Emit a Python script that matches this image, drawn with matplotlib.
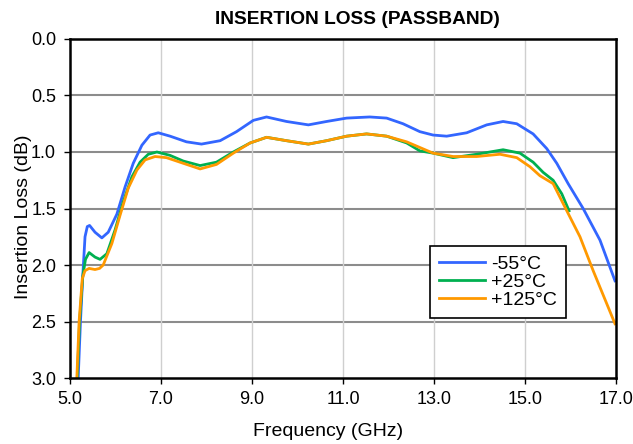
import matplotlib.pyplot as plt

plt.rcParams['font.family'] = ['Liberation Sans', 'DejaVu Sans']

# values (frequency in GHz, insertion loss in dB)
freq_m55 = [5.18, 5.23, 5.28, 5.33, 5.38, 5.43, 5.55, 5.70, 5.84, 6.03, 6.21, 6.39,
            6.58, 6.76, 6.94, 7.20, 7.56, 7.89, 8.30, 8.66, 9.03, 9.32, 9.76, 10.24,
            10.64, 11.08, 11.59, 11.96, 12.32, 12.69, 12.98, 13.28, 13.72, 14.16, 14.52,
            14.82, 15.18, 15.48, 15.70, 15.95, 16.28, 16.65, 16.98]
loss_m55 = [3.00, 2.50, 2.10, 1.75, 1.66, 1.65, 1.71, 1.76, 1.71, 1.55, 1.31, 1.10,
            0.94, 0.85, 0.83, 0.86, 0.91, 0.93, 0.90, 0.82, 0.72, 0.69, 0.73, 0.76,
            0.73, 0.70, 0.69, 0.70, 0.75, 0.82, 0.85, 0.86, 0.83, 0.76, 0.73,
            0.75, 0.84, 0.97, 1.10, 1.28, 1.50, 1.78, 2.14]

freq_p25 = [5.16, 5.21, 5.28, 5.34, 5.42, 5.55, 5.66, 5.81, 5.99, 6.17, 6.36, 6.54,
            6.72, 6.91, 7.20, 7.49, 7.86, 8.22, 8.59, 8.96, 9.32, 9.76, 10.24, 10.64,
            11.08, 11.52, 11.96, 12.40, 12.69, 12.98, 13.42, 13.94, 14.52, 14.89, 15.18,
            15.40, 15.62, 15.81, 15.97]
loss_p25 = [3.00, 2.50, 2.10, 1.95, 1.89, 1.93, 1.95, 1.90, 1.69, 1.44, 1.22, 1.09,
            1.02, 1.00, 1.03, 1.08, 1.12, 1.09, 1.00, 0.92, 0.87, 0.90, 0.93, 0.90,
            0.86, 0.84, 0.86, 0.92, 0.99, 1.01, 1.05, 1.02, 0.98, 1.01, 1.09,
            1.18, 1.25, 1.37, 1.52]

freq_p125 = [5.15, 5.20, 5.27, 5.33, 5.42, 5.55, 5.65, 5.73, 5.92, 6.10, 6.28, 6.47,
             6.65, 6.87, 7.12, 7.49, 7.86, 8.22, 8.59, 8.96, 9.32, 9.76, 10.24, 10.64,
             11.08, 11.52, 11.96, 12.40, 12.69, 12.98, 13.42, 13.94, 14.45, 14.82, 15.11,
             15.33, 15.62, 15.92, 16.21, 16.50, 16.98]
loss_p125 = [3.00, 2.50, 2.12, 2.05, 2.03, 2.04, 2.03, 2.00, 1.81, 1.56, 1.32, 1.16,
             1.07, 1.04, 1.05, 1.10, 1.15, 1.11, 1.01, 0.92, 0.87, 0.90, 0.93, 0.90,
             0.86, 0.84, 0.86, 0.91, 0.96, 1.01, 1.04, 1.04, 1.02, 1.05, 1.13,
             1.21, 1.28, 1.52, 1.75, 2.05, 2.52]

series = [
    ('-55°C', freq_m55, loss_m55, '#3366FF'),
    ('+25°C', freq_p25, loss_p25, '#00B050'),
    ('+125°C', freq_p125, loss_p125, '#FF9900'),
]

x_ticks = [5, 7, 9, 11, 13, 15, 17]
y_ticks = [0.0, 0.5, 1.0, 1.5, 2.0, 2.5, 3.0]

fig = plt.figure(figsize=(6.33, 4.44), dpi=100)
ax = fig.add_axes([0.1106, 0.1486, 0.8624, 0.7636])

for label, f, l, c in series:
    ax.plot(f, l, color=c, lw=2.0, label=label, solid_joinstyle='round')

ax.set_xlim(5, 17)
ax.set_ylim(3, 0)
ax.set_xticks(x_ticks)
ax.set_xticklabels([f'{v:.1f}' for v in x_ticks])
ax.set_yticks(y_ticks)
ax.set_yticklabels([f'{v:.1f}' for v in y_ticks])

# darker horizontal grid, light vertical grid
for y in y_ticks[1:-1]:
    ax.axhline(y, color='#8c8c8c', lw=1.5, zorder=0)
for x in x_ticks[1:-1]:
    ax.axvline(x, color='#cfcfcf', lw=1.0, zorder=0)

for s in ax.spines.values():
    s.set_linewidth(1.8)
    s.set_color('black')
ax.tick_params(direction='out', length=4, width=1.0, labelsize=13)
ax.tick_params(axis='x', pad=5)
ax.tick_params(axis='y', pad=6)

ax.set_title('INSERTION LOSS (PASSBAND)', fontsize=13.8, fontweight='bold',
             pad=11, x=0.527)
ax.set_xlabel('Frequency (GHz)', fontsize=14)
ax.set_ylabel('Insertion Loss (dB)', fontsize=14)
ax.xaxis.set_label_coords(0.472, -0.133)
ax.yaxis.set_label_coords(-0.069, 0.477)

leg = ax.legend(loc='upper left', bbox_to_anchor=(0.659, 0.388), fontsize=14,
                frameon=True, fancybox=False, borderaxespad=0, handlelength=2.4,
                handletextpad=0.3, labelspacing=0.02, borderpad=0.45)
leg.get_frame().set_edgecolor('black')
leg.get_frame().set_linewidth(1.2)
leg.get_frame().set_alpha(1)

fig.savefig('out.png', dpi=100)
